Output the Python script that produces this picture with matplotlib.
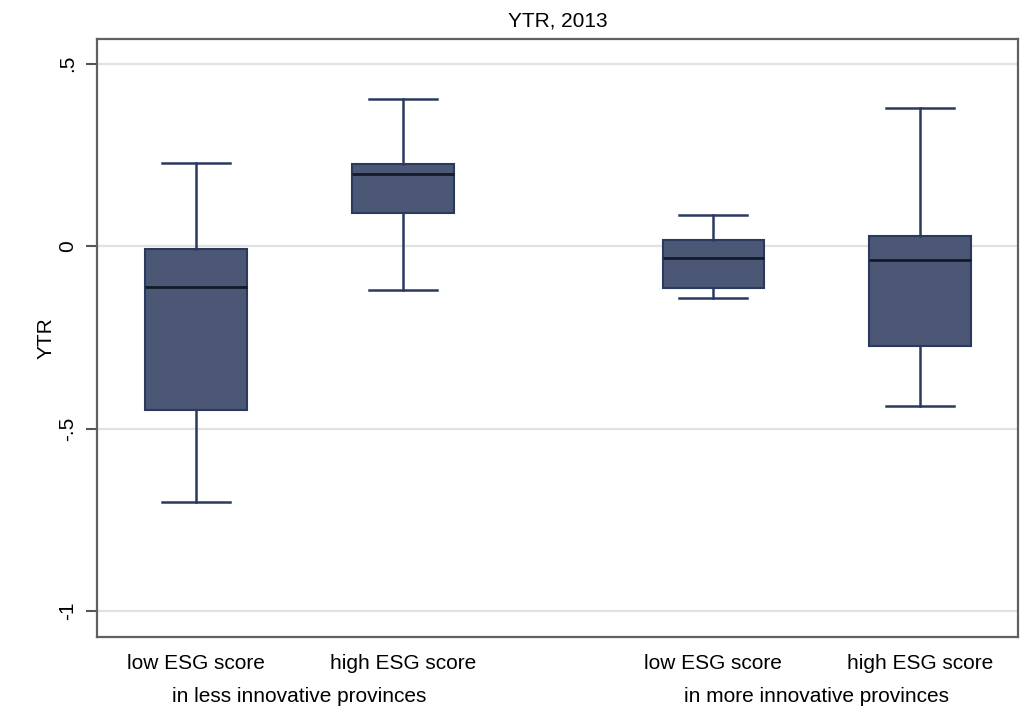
import matplotlib.pyplot as plt
import numpy as np

plt.rcParams["font.family"] = ["Liberation Sans", "DejaVu Sans"]

# box summary per group: whisker ends, quartiles, median
groups = ["low ESG score", "high ESG score", "low ESG score", "high ESG score"]
positions = [1.0, 2.0, 3.5, 4.5]
whislo = [-0.701, -0.121, -0.142, -0.438]
q1 = [-0.449, 0.090, -0.115, -0.274]
med = [-0.112, 0.197, -0.033, -0.038]
q3 = [-0.008, 0.225, 0.016, 0.027]
whishi = [0.227, 0.403, 0.085, 0.378]
group_labels = ["in less innovative provinces", "in more innovative provinces"]
yticks = [0.5, 0, -0.5, -1]
yticklabels = [".5", "0", "-.5", "-1"]

fill = "#4b5775"
edge = "#2a3a5e"

stats = []
for i in range(len(groups)):
    stats.append(dict(whislo=whislo[i], q1=q1[i], med=med[i], q3=q3[i],
                      whishi=whishi[i], fliers=[]))

fig = plt.figure(figsize=(10.33, 7.09), dpi=100, facecolor="white")
ax = fig.add_axes([97 / 1033, 1 - 637 / 709, (1018 - 97) / 1033, (637 - 39) / 709])

ax.bxp(
    stats,
    positions=positions,
    widths=0.49,
    patch_artist=True,
    showfliers=False,
    boxprops=dict(facecolor=fill, edgecolor=edge, linewidth=1.5),
    medianprops=dict(color="#141a28", linewidth=2.0),
    whiskerprops=dict(color=edge, linewidth=1.8),
    capprops=dict(color=edge, linewidth=1.8),
    capwidths=0.33,
    zorder=3,
)

ax.set_xlim(0.522, 4.973)
ax.set_ylim(-1.071, 0.568)
ax.set_yticks(yticks)
ax.set_yticklabels(yticklabels, rotation=90, va="center", fontsize=15)
ax.tick_params(axis="y", length=8, width=1.5, color="#555555", pad=6)
ax.grid(axis="y", color="#e2e2e2", linewidth=1.6, zorder=0)
ax.set_axisbelow(True)

ax.set_xticks(positions)
ax.set_xticklabels(groups, fontsize=15)
ax.tick_params(axis="x", length=0, pad=12)

for sp in ax.spines.values():
    sp.set_color("#606060")
    sp.set_linewidth(1.6)

# group captions under each pair
for lab, xs in zip(group_labels, [positions[:2], positions[2:]]):
    ax.text(np.mean(xs), -0.099, lab, transform=ax.get_xaxis_transform(),
            ha="center", va="center", fontsize=15)

ax.set_ylabel("YTR", fontsize=15, labelpad=2)
ax.set_title("YTR, 2013", fontsize=15, pad=9)

fig.savefig("out.png", dpi=100, facecolor="white")
